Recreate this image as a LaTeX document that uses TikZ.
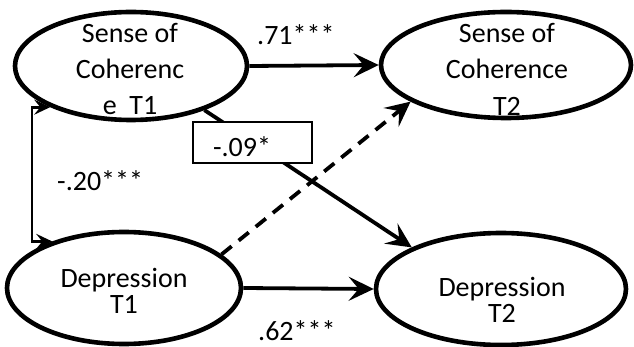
\documentclass[tikz,border=0pt]{standalone}
\usepackage{fontspec}
\setmainfont{Carlito}
\usepackage{tikz}
\usetikzlibrary{arrows.meta,shapes.geometric,calc}

\tikzset{
  latent/.style={ellipse,draw,line width=4.6pt,inner sep=0pt},
  vartext/.style={align=center,font=\fontsize{28}{36.5}\selectfont},
  deptext/.style={align=center,font=\fontsize{28}{26}\selectfont},
  coef/.style={font=\fontsize{28}{30}\selectfont,inner sep=0pt},
  path/.style={line width=3.8pt,-{Stealth[length=25pt,width=24pt,inset=10pt]}},
  corr/.style={line width=2.8pt,{Stealth[length=16pt,width=15pt,inset=6pt]}-{Stealth[length=16pt,width=15pt,inset=6pt]}},
}

\begin{document}
\begin{tikzpicture}[x=1pt,y=-1pt]
\useasboundingbox[fill=white] (0,0) rectangle (634,347);

\node[latent,minimum width=232pt,minimum height=108pt] (soc1) at (131,66) {};
\node[latent,minimum width=250pt,minimum height=106pt] (soc2) at (506,65) {};
\node[latent,minimum width=234pt,minimum height=112pt] (dep1) at (124,288) {};
\node[latent,minimum width=250pt,minimum height=112pt] (dep2) at (501,289) {};

\node[vartext] (soc1txt) at (130,69) {Sense of\\Coherenc\\e\ \ T1};
\node[vartext] (soc2txt) at (507,69) {Sense of\\Coherence\\T2};
\node[deptext] (dep1txt) at (124,291) {Depression\\T1};
\node[deptext] (dep2txt) at (502,300) {Depression\\T2};

\draw[path] (soc1.east) -- (soc2.west);
\draw[path] (dep1.east) -- (dep2.west);
\draw[path] (soc1.-31) -- (dep2.155.5);
\draw[path,dash pattern=on 13pt off 9pt] (dep1.19) -- (soc2.-159);

\coordinate (bend) at (32,175);
\draw[corr] (soc1.207.4) -| (bend) |- (dep1.147);

\node[coef,anchor=base west] (b71) at (257,45) {.71***};
\node[coef,anchor=base west] (b62) at (258,340) {.62***};
\node[coef,anchor=base west] (b20) at (57,191) {-.20***};
\node[draw,fill=white,line width=1.8pt,minimum width=119pt,minimum height=41pt,
      text width=79pt,inner xsep=20pt,align=left,text height=31pt,text depth=2pt,
      font=\fontsize{28}{30}\selectfont] (b09) at (252.5,142.5) {-.09*};
\end{tikzpicture}
\end{document}
